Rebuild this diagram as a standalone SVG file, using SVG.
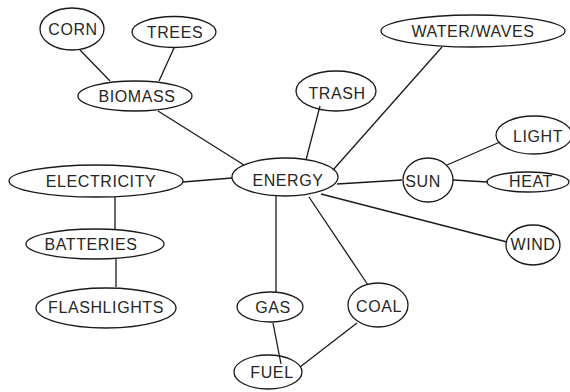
<svg xmlns="http://www.w3.org/2000/svg" width="570" height="392" viewBox="0 0 570 392">
<style>
.n ellipse{fill:none;stroke:#1a1a1a;stroke-width:1.3}
.n text{font-family:"Liberation Sans",Arial,sans-serif;font-size:16px;letter-spacing:0.6px;fill:#262626;text-anchor:middle}
#edges line{stroke:#1a1a1a;stroke-width:1.3}
</style>
<rect width="570" height="392" fill="#fff"/>
<g id="edges">
<line x1="80" y1="50" x2="110" y2="81"/>
<line x1="174" y1="48" x2="159" y2="81"/>
<line x1="158" y1="111" x2="244" y2="165"/>
<line x1="320" y1="106" x2="306" y2="160"/>
<line x1="442" y1="47" x2="333" y2="170"/>
<line x1="337" y1="184" x2="402" y2="180"/>
<line x1="447" y1="165" x2="500" y2="142"/>
<line x1="453" y1="180" x2="488" y2="182"/>
<line x1="321" y1="194" x2="507" y2="242"/>
<line x1="276" y1="196" x2="276" y2="293"/>
<line x1="309" y1="197" x2="368" y2="285"/>
<line x1="273" y1="323" x2="281" y2="364"/>
<line x1="357" y1="323" x2="300" y2="367"/>
<line x1="183" y1="182" x2="232" y2="178"/>
<line x1="115" y1="197" x2="115" y2="230"/>
<line x1="116" y1="259" x2="116" y2="287"/>
</g>
<g id="corn" class="n"><ellipse cx="72" cy="29" rx="32" ry="21"/><text x="73" y="35">CORN</text></g>
<g id="trees" class="n"><ellipse cx="174" cy="32" rx="42" ry="15.5"/><text x="175" y="38">TREES</text></g>
<g id="biomass" class="n"><ellipse cx="135" cy="96" rx="57" ry="15"/><text x="137" y="102">BIOMASS</text></g>
<g id="water" class="n"><ellipse cx="473" cy="31" rx="92" ry="16"/><text x="473" y="37">WATER/WAVES</text></g>
<g id="trash" class="n"><ellipse cx="336" cy="91" rx="40" ry="20"/><text x="337" y="98.5">TRASH</text></g>
<g id="energy" class="n"><ellipse cx="285" cy="177" rx="53" ry="19"/><text x="288" y="185.5">ENERGY</text></g>
<g id="sun" class="n"><ellipse cx="428" cy="180" rx="25" ry="22"/><text x="423" y="186.5">SUN</text></g>
<g id="light" class="n"><ellipse cx="534" cy="135" rx="38" ry="19"/><text x="538" y="141.5">LIGHT</text></g>
<g id="heat" class="n"><ellipse cx="528" cy="182" rx="41" ry="10"/><text x="531" y="187">HEAT</text></g>
<g id="wind" class="n"><ellipse cx="533" cy="245" rx="27" ry="20"/><text x="533" y="250">WIND</text></g>
<g id="electricity" class="n"><ellipse cx="96" cy="181" rx="87" ry="16"/><text x="101" y="186.5">ELECTRICITY</text></g>
<g id="batteries" class="n"><ellipse cx="95" cy="244" rx="69" ry="15"/><text x="91" y="250">BATTERIES</text></g>
<g id="flashlights" class="n"><ellipse cx="106" cy="308" rx="70" ry="20"/><text x="106" y="313">FLASHLIGHTS</text></g>
<g id="gas" class="n"><ellipse cx="270" cy="307" rx="33" ry="15"/><text x="273" y="313">GAS</text></g>
<g id="coal" class="n"><ellipse cx="378" cy="305" rx="30" ry="22"/><text x="379" y="311.5">COAL</text></g>
<g id="fuel" class="n"><ellipse cx="268" cy="372" rx="34" ry="17"/><text x="272" y="378">FUEL</text></g>
</svg>
